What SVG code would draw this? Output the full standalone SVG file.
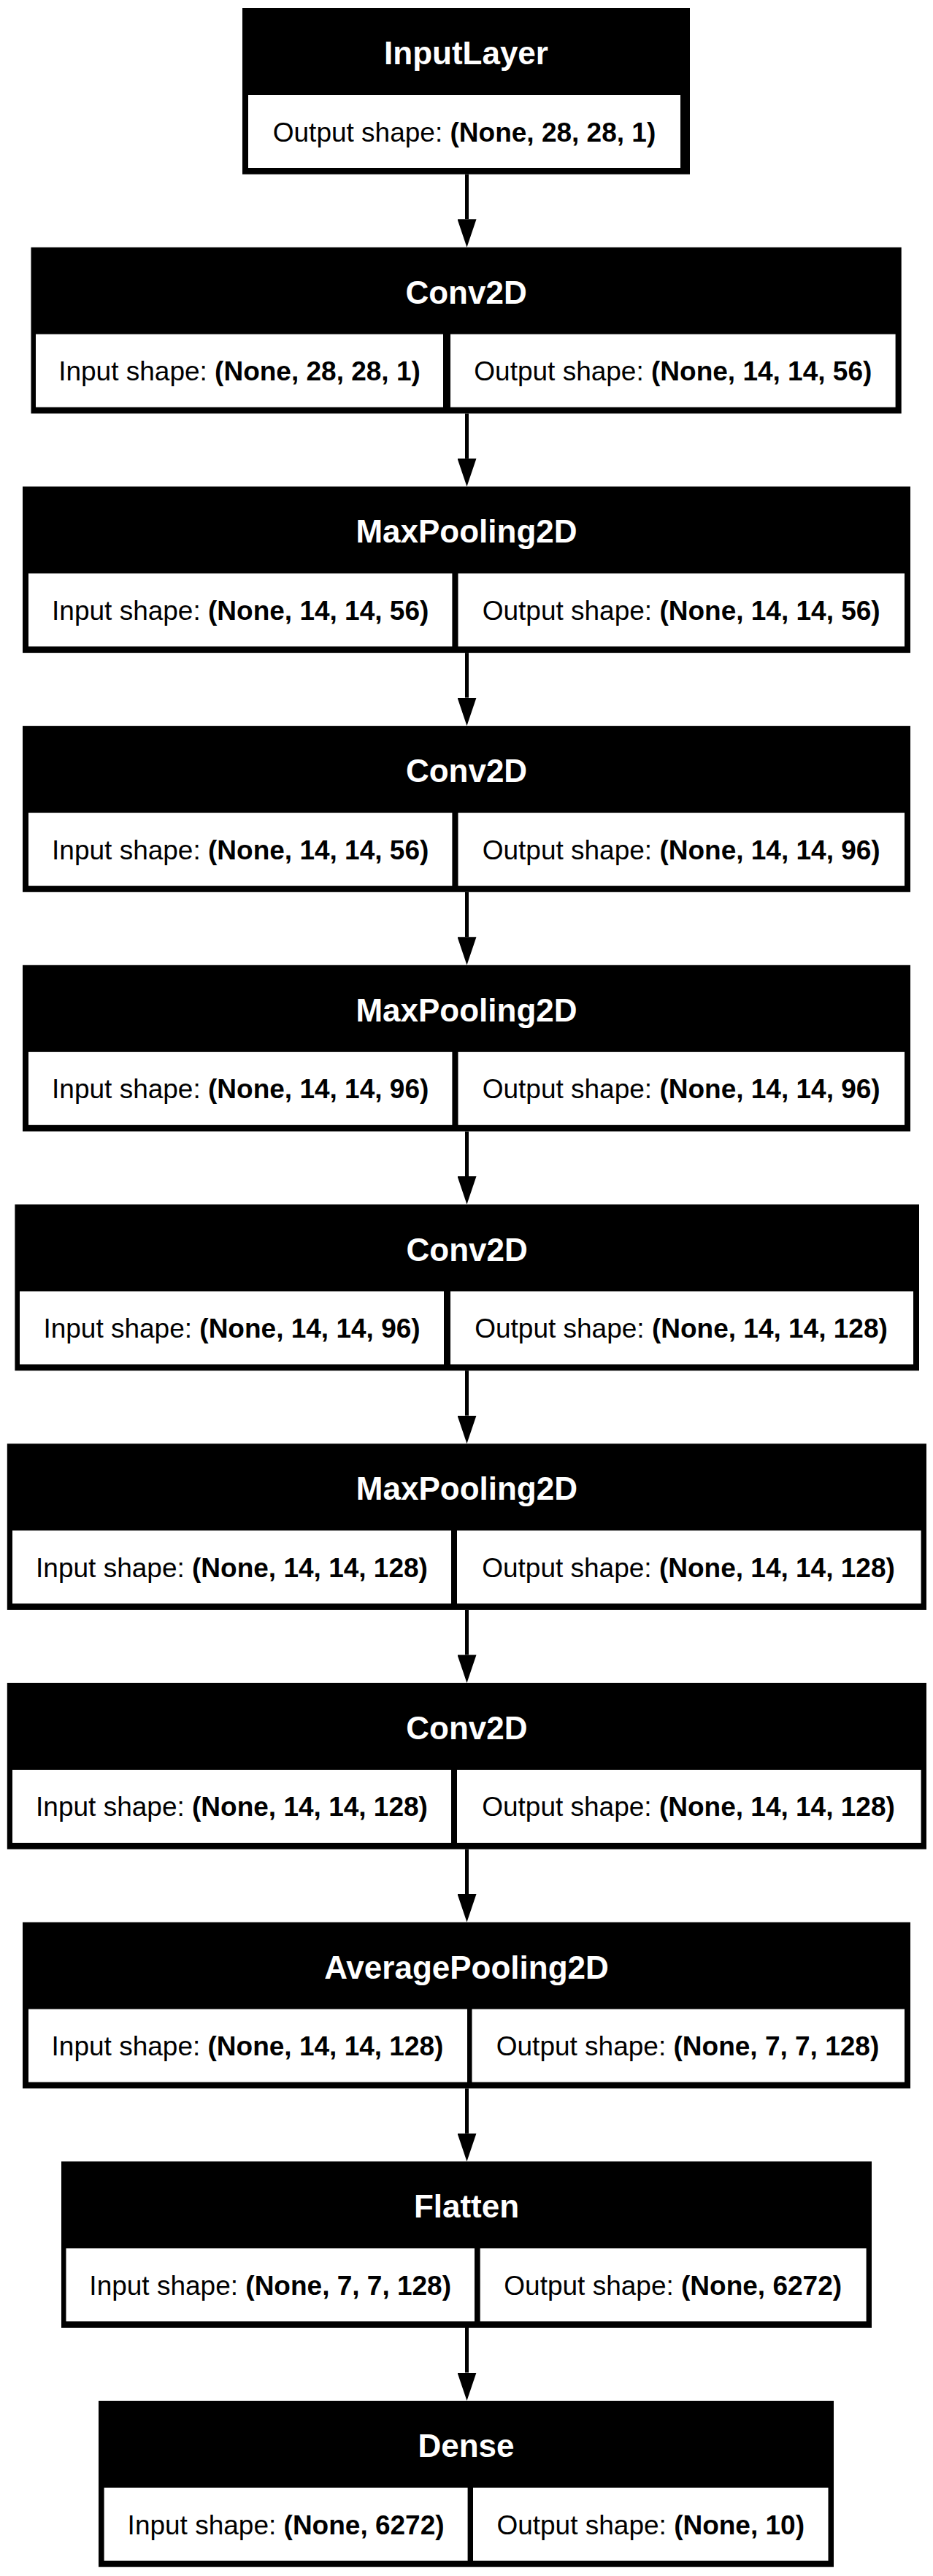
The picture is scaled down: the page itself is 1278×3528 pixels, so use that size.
<svg xmlns="http://www.w3.org/2000/svg" width="1278" height="3528" viewBox="0 0 1278 3528">
<defs>
<style>
.box{fill:#000}
.cell{fill:#fff}
.hd{font-family:"Liberation Sans",Arial,Helvetica,sans-serif;font-size:44px;font-weight:bold;fill:#fff;text-anchor:middle}
.bd{font-family:"Liberation Sans",Arial,Helvetica,sans-serif;font-size:37px;fill:#000;text-anchor:middle}
.b{font-weight:bold}
.edge{stroke:#000;stroke-width:5;fill:none;marker-end:url(#ah)}
</style>
<marker id="ah" viewBox="0 0 38.5 26" refX="0" refY="13" markerWidth="38.5" markerHeight="26" markerUnits="userSpaceOnUse" orient="auto">
<path d="M0,0 L38.5,13 L0,26 z" fill="#000"/>
</marker>
</defs>
<rect x="0" y="0" width="1278" height="3528" fill="#fff"/>

<g id="connectors">
<line class="edge" x1="639.5" y1="238.7" x2="639.5" y2="300.2"/>
<line class="edge" x1="639.5" y1="566.4" x2="639.5" y2="627.9"/>
<line class="edge" x1="639.5" y1="894.1" x2="639.5" y2="955.6"/>
<line class="edge" x1="639.5" y1="1221.8" x2="639.5" y2="1283.3"/>
<line class="edge" x1="639.5" y1="1549.5" x2="639.5" y2="1611"/>
<line class="edge" x1="639.5" y1="1877.2" x2="639.5" y2="1938.7"/>
<line class="edge" x1="639.5" y1="2204.9" x2="639.5" y2="2266.4"/>
<line class="edge" x1="639.5" y1="2532.6" x2="639.5" y2="2594.1"/>
<line class="edge" x1="639.5" y1="2860.3" x2="639.5" y2="2921.8"/>
<line class="edge" x1="639.5" y1="3188" x2="639.5" y2="3249.5"/>
</g>

<g id="n0" transform="translate(0,11)">
<rect class="box" x="332" y="0" width="613" height="227.7"/>
<rect class="cell" x="340" y="119" width="592" height="100"/>
<text class="hd" x="638.5" y="77">InputLayer</text>
<text class="bd" x="636" y="182.5">Output shape: <tspan class="b">(None, 28, 28, 1)</tspan></text>
</g>

<g id="n1" transform="translate(0,338.7)">
<rect class="box" x="42.5" y="0" width="1192.2" height="227.7"/>
<rect class="cell" x="49" y="119" width="558" height="100"/>
<rect class="cell" x="617" y="119" width="609.6" height="100"/>
<text class="hd" x="638.6" y="77">Conv2D</text>
<text class="bd" x="328" y="182.5">Input shape: <tspan class="b">(None, 28, 28, 1)</tspan></text>
<text class="bd" x="921.8" y="182.5">Output shape: <tspan class="b">(None, 14, 14, 56)</tspan></text>
</g>

<g id="n2" transform="translate(0,666.4)">
<rect class="box" x="31" y="0" width="1216" height="227.7"/>
<rect class="cell" x="39" y="119" width="580.4" height="100"/>
<rect class="cell" x="627.5" y="119" width="611.5" height="100"/>
<text class="hd" x="639" y="77">MaxPooling2D</text>
<text class="bd" x="329.2" y="182.5">Input shape: <tspan class="b">(None, 14, 14, 56)</tspan></text>
<text class="bd" x="933.2" y="182.5">Output shape: <tspan class="b">(None, 14, 14, 56)</tspan></text>
</g>

<g id="n3" transform="translate(0,994.1)">
<rect class="box" x="31" y="0" width="1216" height="227.7"/>
<rect class="cell" x="39" y="119" width="580.4" height="100"/>
<rect class="cell" x="627.5" y="119" width="611.5" height="100"/>
<text class="hd" x="639" y="77">Conv2D</text>
<text class="bd" x="329.2" y="182.5">Input shape: <tspan class="b">(None, 14, 14, 56)</tspan></text>
<text class="bd" x="933.2" y="182.5">Output shape: <tspan class="b">(None, 14, 14, 96)</tspan></text>
</g>

<g id="n4" transform="translate(0,1321.8)">
<rect class="box" x="31" y="0" width="1216" height="227.7"/>
<rect class="cell" x="39" y="119" width="580.4" height="100"/>
<rect class="cell" x="627.5" y="119" width="611.5" height="100"/>
<text class="hd" x="639" y="77">MaxPooling2D</text>
<text class="bd" x="329.2" y="182.5">Input shape: <tspan class="b">(None, 14, 14, 96)</tspan></text>
<text class="bd" x="933.2" y="182.5">Output shape: <tspan class="b">(None, 14, 14, 96)</tspan></text>
</g>

<g id="n5" transform="translate(0,1649.5)">
<rect class="box" x="20.4" y="0" width="1238.6" height="227.7"/>
<rect class="cell" x="27" y="119" width="581" height="100"/>
<rect class="cell" x="617" y="119" width="634" height="100"/>
<text class="hd" x="639.7" y="77">Conv2D</text>
<text class="bd" x="317.5" y="182.5">Input shape: <tspan class="b">(None, 14, 14, 96)</tspan></text>
<text class="bd" x="933" y="182.5">Output shape: <tspan class="b">(None, 14, 14, 128)</tspan></text>
</g>

<g id="n6" transform="translate(0,1977.2)">
<rect class="box" x="9.8" y="0" width="1259.2" height="227.7"/>
<rect class="cell" x="17" y="119" width="601" height="100"/>
<rect class="cell" x="626" y="119" width="635.6" height="100"/>
<text class="hd" x="639.4" y="77">MaxPooling2D</text>
<text class="bd" x="317.5" y="182.5">Input shape: <tspan class="b">(None, 14, 14, 128)</tspan></text>
<text class="bd" x="943" y="182.5">Output shape: <tspan class="b">(None, 14, 14, 128)</tspan></text>
</g>

<g id="n7" transform="translate(0,2304.9)">
<rect class="box" x="9.8" y="0" width="1259.2" height="227.7"/>
<rect class="cell" x="17" y="119" width="601" height="100"/>
<rect class="cell" x="626" y="119" width="635.6" height="100"/>
<text class="hd" x="639.4" y="77">Conv2D</text>
<text class="bd" x="317.5" y="182.5">Input shape: <tspan class="b">(None, 14, 14, 128)</tspan></text>
<text class="bd" x="943" y="182.5">Output shape: <tspan class="b">(None, 14, 14, 128)</tspan></text>
</g>

<g id="n8" transform="translate(0,2632.6)">
<rect class="box" x="31" y="0" width="1216" height="227.7"/>
<rect class="cell" x="39" y="119" width="601" height="100"/>
<rect class="cell" x="646.5" y="119" width="592.5" height="100"/>
<text class="hd" x="639" y="77">AveragePooling2D</text>
<text class="bd" x="339" y="182.5">Input shape: <tspan class="b">(None, 14, 14, 128)</tspan></text>
<text class="bd" x="942" y="182.5">Output shape: <tspan class="b">(None, 7, 7, 128)</tspan></text>
</g>

<g id="n9" transform="translate(0,2960.3)">
<rect class="box" x="84" y="0" width="1110" height="227.7"/>
<rect class="cell" x="90.5" y="119" width="559.5" height="100"/>
<rect class="cell" x="657.7" y="119" width="528.9" height="100"/>
<text class="hd" x="639" y="77">Flatten</text>
<text class="bd" x="370.2" y="182.5">Input shape: <tspan class="b">(None, 7, 7, 128)</tspan></text>
<text class="bd" x="921.7" y="182.5">Output shape: <tspan class="b">(None, 6272)</tspan></text>
</g>

<g id="n10" transform="translate(0,3288)">
<rect class="box" x="135" y="0" width="1007" height="227.7"/>
<rect class="cell" x="142.6" y="119" width="498" height="100"/>
<rect class="cell" x="648" y="119" width="486.5" height="100"/>
<text class="hd" x="638.5" y="77">Dense</text>
<text class="bd" x="391.6" y="182.5">Input shape: <tspan class="b">(None, 6272)</tspan></text>
<text class="bd" x="891.2" y="182.5">Output shape: <tspan class="b">(None, 10)</tspan></text>
</g>
</svg>
